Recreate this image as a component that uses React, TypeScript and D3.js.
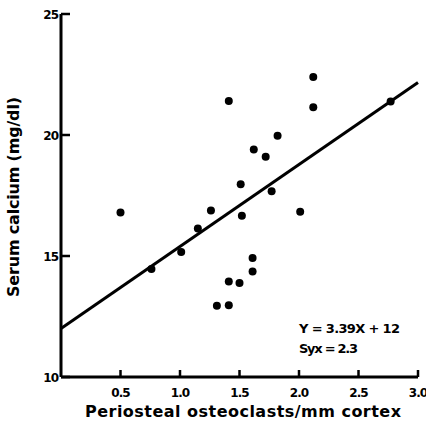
import * as d3 from 'd3';

// osteoclasts per mm cortex vs serum calcium
const osteoclasts = [
  0.5, 0.76, 1.01, 1.15, 1.26, 1.31, 1.41, 1.41, 1.41, 1.5, 1.52, 1.51, 1.61, 1.61, 1.62, 1.72,
  1.77, 1.82, 2.01, 2.12, 2.12, 2.77,
];
const calcium = [
  16.8, 14.46, 15.17, 16.14, 16.88, 12.94, 12.97, 13.95, 21.4, 13.88, 16.66, 17.97, 14.36, 14.92,
  19.4, 19.1, 17.68, 19.97, 16.83, 22.4, 21.15, 21.38,
];
const xTicks = [0.5, 1.0, 1.5, 2.0, 2.5, 3.0];
const yTicks = [10, 15, 20, 25];
const slope = 3.39;
const intercept = 12;

export default function App() {
  const w = 426;
  const h = 423;
  const font = 'DejaVu Sans, sans-serif';

  const xScale = d3.scaleLinear().domain([0, 3]).range([61, 418]);
  const yScale = d3.scaleLinear().domain([10, 25]).range([377, 14]);

  const fitLine = d3
    .line<number>()
    .x((d) => xScale(d))
    .y((d) => yScale(slope * d + intercept));

  return (
    <svg
      width={w}
      height={h}
      style={{ position: 'absolute', left: 0, top: 0, background: '#fff' }}
    >
      {/* axes */}
      <line x1={xScale(0)} y1={yScale(10)} x2={xScale(3)} y2={yScale(10)} stroke='#000' strokeWidth={3} />
      <line x1={xScale(0)} y1={yScale(10)} x2={xScale(0)} y2={yScale(25)} stroke='#000' strokeWidth={3} />

      {xTicks.map((t) => (
        <g key={'x' + t}>
          <line x1={xScale(t)} x2={xScale(t)} y1={yScale(10)} y2={yScale(10) - 7} stroke='#000' strokeWidth={2.5} />
          <text
            x={xScale(t)}
            y={yScale(10) + 20}
            textAnchor='middle'
            fontFamily={font}
            fontWeight='bold'
            fontSize={12}
            letterSpacing={-1}
          >
            {t.toFixed(1)}
          </text>
        </g>
      ))}

      {yTicks.map((t) => (
        <g key={'y' + t}>
          <line x1={xScale(0)} x2={xScale(0) + 9} y1={yScale(t)} y2={yScale(t)} stroke='#000' strokeWidth={2.5} />
          <text
            x={xScale(0) - 3}
            y={yScale(t) + 5}
            textAnchor='end'
            fontFamily={font}
            fontWeight='bold'
            fontSize={12}
            letterSpacing={-1}
          >
            {t}
          </text>
        </g>
      ))}

      {/* regression line */}
      <path d={fitLine([0, 3]) ?? ''} fill='none' stroke='#000' strokeWidth={3} />

      {osteoclasts.map((x, i) => (
        <circle key={i} cx={xScale(x)} cy={yScale(calcium[i])} r={4} fill='#000' />
      ))}

      <text x={299} y={333} fontFamily={font} fontWeight='bold' fontSize={13} textLength={101}>
        Y = 3.39X + 12
      </text>
      <text x={299} y={353} fontFamily={font} fontWeight='bold' fontSize={13} textLength={59}>
        Syx = 2.3
      </text>

      <text
        x={243}
        y={417}
        textAnchor='middle'
        fontFamily={font}
        fontWeight='bold'
        fontSize={16}
        textLength={316}
      >
        Periosteal osteoclasts/mm cortex
      </text>
      <text
        transform='translate(19, 197) rotate(-90)'
        textAnchor='middle'
        fontFamily={font}
        fontWeight='bold'
        fontSize={16}
        textLength={200}
      >
        Serum calcium (mg/dl)
      </text>
    </svg>
  );
}
